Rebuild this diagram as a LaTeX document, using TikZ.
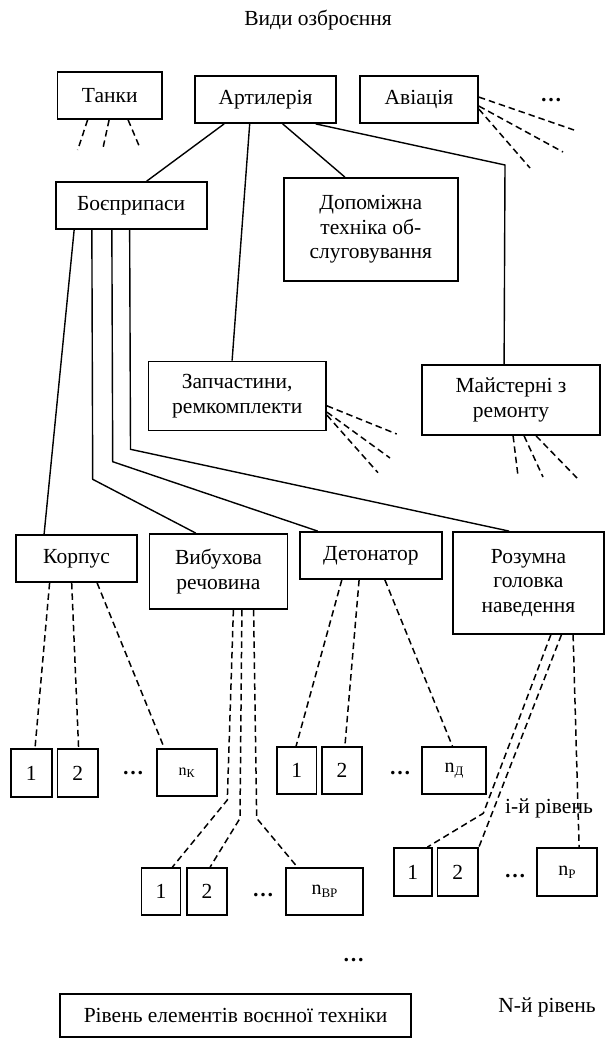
\documentclass[tikz,border=0pt]{standalone}
\usepackage{fontspec}
\setmainfont{Liberation Serif}
\newcommand{\mainsz}{\fontsize{21.5}{24.5}\selectfont}
\newcommand{\nsub}[1]{\raisebox{-3pt}{\fontsize{13}{13}\selectfont #1}}
\newcommand{\tdots}{\textbf{…}}
\begin{document}
\begin{tikzpicture}[x=1pt,y=-1pt,
  box/.style={draw, line width=1.8pt, inner sep=0pt, align=center, font=\mainsz},
  link/.style={line width=1.4pt},
  dlink/.style={line width=1.5pt, dash pattern=on 6.5pt off 4pt},
  lbl/.style={inner sep=0pt, font=\mainsz}]
\useasboundingbox (0,0) rectangle (606,1039);

% titles and labels
\node[lbl] (title) at (318,20) {Види озброєння};
\node[lbl] (ilev) at (549,808) {і-й рівень};
\node[lbl] (nlev) at (547,1007) {N-й рівень};

% level 1
\node[box, minimum width=104.5pt, minimum height=47pt] (tanks) at (109.75,95.5) {Танки};
\node[box, minimum width=141pt, minimum height=47pt] (art) at (265.5,99.5) {Артилерія};
\node[box, minimum width=118pt, minimum height=47pt] (avia) at (419,99.5) {Авіація};
\node[lbl] (dots0) at (551,100) {\tdots};

% level 2
\node[box, minimum width=151pt, minimum height=47pt] (boe) at (131.15,205.5) {Боєприпаси};
\node[box, minimum width=173.6pt, minimum height=103pt] (dop) at (370.8,229.5) {Допоміжна\\техніка об-\\слуговування};
\node[box, minimum width=177.5pt, minimum height=69pt] (zap) at (237.25,396) {Запчастини,\\ремкомплекти};
\node[box, minimum width=178pt, minimum height=70pt] (may) at (511,400) {Майстерні з\\ремонту};

% level 3
\node[box, minimum width=120.4pt, minimum height=47pt] (korp) at (76.5,558.5) {Корпус};
\node[box, minimum width=138pt, minimum height=75pt] (vyb) at (218.5,571.5) {Вибухова\\речовина};
\node[box, minimum width=141.7pt, minimum height=47pt] (det) at (370.85,555.5) {Детонатор};
\node[box, minimum width=151pt, minimum height=102pt] (roz) at (528.5,583) {Розумна\\головка\\наведення};

% level i boxes
\node[box, minimum width=40.8pt, minimum height=47.6pt] (K1) at (31.3,773) {1};
\node[box, minimum width=40.5pt, minimum height=47.6pt] (K2) at (77.75,773) {2};
\node[lbl] (Kdots) at (133,773) {\tdots};
\node[box, minimum width=60pt, minimum height=47pt] (Kn) at (186.7,772.5) {\fontsize{16}{16}\selectfont n\raisebox{-1.5pt}{\fontsize{12}{12}\selectfont К}};

\node[box, minimum width=39.5pt, minimum height=47pt] (D1) at (296.75,770.5) {1};
\node[box, minimum width=40pt, minimum height=47pt] (D2) at (342,770.5) {2};
\node[lbl] (Ddots) at (400,773) {\tdots};
\node[box, minimum width=64pt, minimum height=47pt] (Dn) at (454,770.5) {\fontsize{20}{20}\selectfont n\nsub{Д}};

\node[box, minimum width=39pt, minimum height=47pt] (B1) at (161,891.5) {1};
\node[box, minimum width=40pt, minimum height=47pt] (B2) at (207,891.5) {2};
\node[lbl] (Bdots) at (263,895) {\tdots};
\node[box, minimum width=77pt, minimum height=47pt] (Bn) at (324.5,891.5) {\fontsize{20}{20}\selectfont n\nsub{ВР}};

\node[box, minimum width=38.4pt, minimum height=48pt] (P1) at (412.8,872) {1};
\node[box, minimum width=40.5pt, minimum height=48pt] (P2) at (457.75,872) {2};
\node[lbl] (Pdots) at (515,876) {\tdots};
\node[box, minimum width=60pt, minimum height=48pt] (Pn) at (567,872) {\fontsize{20}{20}\selectfont n\nsub{Р}};

\node[lbl] (botdots) at (353.5,960) {\tdots};
\node[box, minimum width=351pt, minimum height=43pt] (elem) at (235.5,1015.5) {Рівень елементів воєнної техніки};

% solid connectors
\draw[link] ([xshift=30pt]art.south west) -- ([xshift=92pt]boe.north west);
\draw[link] ([xshift=55.6pt]art.south west) -- ([xshift=84.5pt]zap.north west);
\draw[link] ([xshift=88.6pt]art.south west) -- ([xshift=61.8pt]dop.north west);
\draw[link] ([xshift=121.6pt]art.south west) -- (505,165) -- ([xshift=83pt]may.north west);

\draw[link] ([xshift=19.4pt]boe.south west) -- ([xshift=28.7pt]korp.north west);
\draw[link] ([xshift=37.1pt]boe.south west) -- (92.7,479.3) -- ([xshift=47.2pt]vyb.north west);
\draw[link] ([xshift=57.1pt]boe.south west) -- (112.7,461.7) -- ([xshift=18.6pt]det.north west);
\draw[link] ([xshift=74.9pt]boe.south west) -- (130.5,449.3) -- ([xshift=57pt]roz.north west);

% free ends of dashed fans
\coordinate (t1) at (77.7,150);
\coordinate (t2) at (103,148);
\coordinate (t3) at (140,148);
\coordinate (a1) at (574,130);
\coordinate (a2) at (563,152);
\coordinate (a3) at (530,168);
\coordinate (z1) at (396.7,434);
\coordinate (z2) at (390,458);
\coordinate (z3) at (378,472.7);
\coordinate (m1) at (518,476);
\coordinate (m2) at (543,477);
\coordinate (m3) at (577,478);

\draw[dlink] ([xshift=31pt]tanks.south west) -- (t1);
\draw[dlink] ([xshift=52.5pt]tanks.south west) -- (t2);
\draw[dlink] ([xshift=71.5pt]tanks.south west) -- (t3);

\draw[dlink] ([yshift=-22pt]avia.north east) -- (a1);
\draw[dlink] ([yshift=-31pt]avia.north east) -- (a2);
\draw[dlink] ([yshift=-34pt]avia.north east) -- (a3);

\draw[dlink] ([yshift=-45.2pt]zap.north east) -- (z1);
\draw[dlink] ([yshift=-51.5pt]zap.north east) -- (z2);
\draw[dlink] ([yshift=-54.5pt]zap.north east) -- (z3);

\draw[dlink] ([xshift=92pt]may.south west) -- (m1);
\draw[dlink] ([xshift=103pt]may.south west) -- (m2);
\draw[dlink] ([xshift=115pt]may.south west) -- (m3);

% dashed to level i
\draw[dlink] ([xshift=34.2pt]korp.south west) -- ([xshift=25pt]K1.north west);
\draw[dlink] ([xshift=56.3pt]korp.south west) -- ([xshift=22pt]K2.north west);
\draw[dlink] ([xshift=81.7pt]korp.south west) -- ([xshift=8.5pt]Kn.north west);

\draw[dlink] ([xshift=84.8pt]vyb.south west) -- (227.3,800) -- ([xshift=31.8pt]B1.north west);
\draw[dlink] ([xshift=93.3pt]vyb.south west) -- (240,818.3) -- ([xshift=24pt]B2.north west);
\draw[dlink] ([xshift=105pt]vyb.south west) -- (256.7,818.3) -- ([xshift=12.3pt]Bn.north west);

\draw[dlink] ([xshift=42.7pt]det.south west) -- ([xshift=20pt]D1.north west);
\draw[dlink] ([xshift=60pt]det.south west) -- ([xshift=23.8pt]D2.north west);
\draw[dlink] ([xshift=85.8pt]det.south west) -- ([xshift=31.3pt]Dn.north west);

\draw[dlink] ([xshift=98.7pt]roz.south west) -- (483.3,813.3) -- ([xshift=34.7pt]P1.north west);
\draw[dlink] ([xshift=109.3pt]roz.south west) -- (P2.north east);
\draw[dlink] ([xshift=121pt]roz.south west) -- ([xshift=43pt]Pn.north west);
\end{tikzpicture}
\end{document}
